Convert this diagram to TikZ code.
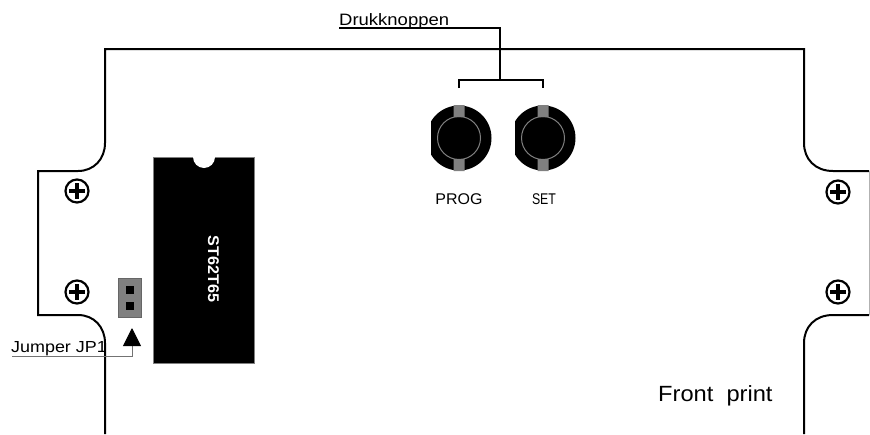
\documentclass[tikz,border=0pt]{standalone}
\usepackage{fontspec}
\setmainfont{Liberation Sans}[FakeStretch=1.12]
\usetikzlibrary{arrows.meta, positioning}

\tikzset{
	lijn/.style={line width=2pt, black},
	dun/.style={line width=1pt, black!55},
	tekst/.style={inner sep=0pt, black},
	gat/.style={fill=black, draw=none, minimum size=8pt, inner sep=0pt},
	schroef/.pic={
		\draw[line width=2.2pt, fill=white] (0,0) circle (11.5);
		\draw[line width=3.5pt] (-8,0) -- (8,0) (0,-8) -- (0,8);
	},
	knop/.pic={
		\begin{scope}
			\clip (-28,-40) rectangle (40,40);
			\fill[black] (0,0) circle (32.5);
		\end{scope}
		\fill[black!50] (-5.5,-33) rectangle (5.5,-21) (-5.5,21) rectangle (5.5,33);
		\draw[black!50, line width=1pt] (0,0) circle (21.5);
	}
}

\begin{document}
\begin{tikzpicture}[x=1pt,y=-1pt]
		\useasboundingbox (0,0) rectangle (870,434);

		% print outline
		\draw[lijn] (105,434) -- (105,343) .. controls (105,327) and (94,315) .. (78,315) -- (38,315) -- (38,171) -- (78,171)
			.. controls (94,171) and (105,159) .. (105,143) -- (105,49) -- (804,49) -- (804,143)
			.. controls (804,159) and (815,171) .. (833,171) -- (869,171);
		\draw[lijn] (869,315) -- (833,315) .. controls (815,315) and (804,327) .. (804,343) -- (804,434);
		\draw[dun, black!30] (869,171) -- (869,315);

		\foreach \x/\y in {77/191, 77/292, 838/192, 838/292}
			\pic at (\x,\y) {schroef};

		% IC
		\node[draw=black!50, fill=black, minimum width=101pt, minimum height=206pt, inner sep=0pt] (ic) at (203.5,260) {};
		\fill[white] (193,157) arc[start angle=180, end angle=0, radius=11];
		\node[tekst, white, rotate=-90, font=\fontsize{15.5}{15.5}\selectfont\bfseries] (typeic) at (ic.center) [xshift=9pt, yshift=10pt] {\scalebox{.93}[1]{ST62T65}};

		% jumper
		\node[draw=black!60, fill=black!50, minimum width=23pt, minimum height=39pt, inner sep=0pt] (jp1) at (129.5,297.5) {};
		\node[gat] (pin1) at (130,290) {};
		\node[gat] (pin2) at (130,306) {};
		\node[tekst, anchor=base west, font=\fontsize{16}{16}\selectfont] (jp1txt) at (11,352) {Jumper JP1};
		\coordinate (jp1voet) at (12,356);
		\coordinate (jp1pijl) at (132,328);
		\draw[dun, -{Triangle[length=18pt, width=18pt, black, fill=black]}] (jp1voet) -| (jp1pijl);

		% drukknoppen
		\pic at (459,138) {knop};
		\pic at (543,138) {knop};
		\node[tekst, anchor=base, font=\fontsize{15.5}{15.5}\selectfont] (prog) at (459,204) {\scalebox{.92}[1]{PROG}};
		\node[tekst, anchor=base, font=\fontsize{15.5}{15.5}\selectfont] (set) at (544,204) {\scalebox{.71}[1]{SET}};
		\node[tekst, anchor=base west, font=\fontsize{16.5}{16.5}\selectfont] (druk) at (339,25) {Drukknoppen};
		\coordinate (drukvoet) at (339,28);
		\coordinate (tak) at (500,80);
		\coordinate (been1) at (459,88);
		\coordinate (been2) at (543,88);
		\draw[lijn, line width=1.5pt] (drukvoet) -| (tak);
		\draw[lijn, line width=1.5pt] (been1) |- (tak) -| (been2);

		\node[tekst, anchor=base west, font=\fontsize{22}{22}\selectfont] (front) at (658,401) {\scalebox{.96}[1]{Front\ \ print}};
	\end{tikzpicture}
\end{document}
